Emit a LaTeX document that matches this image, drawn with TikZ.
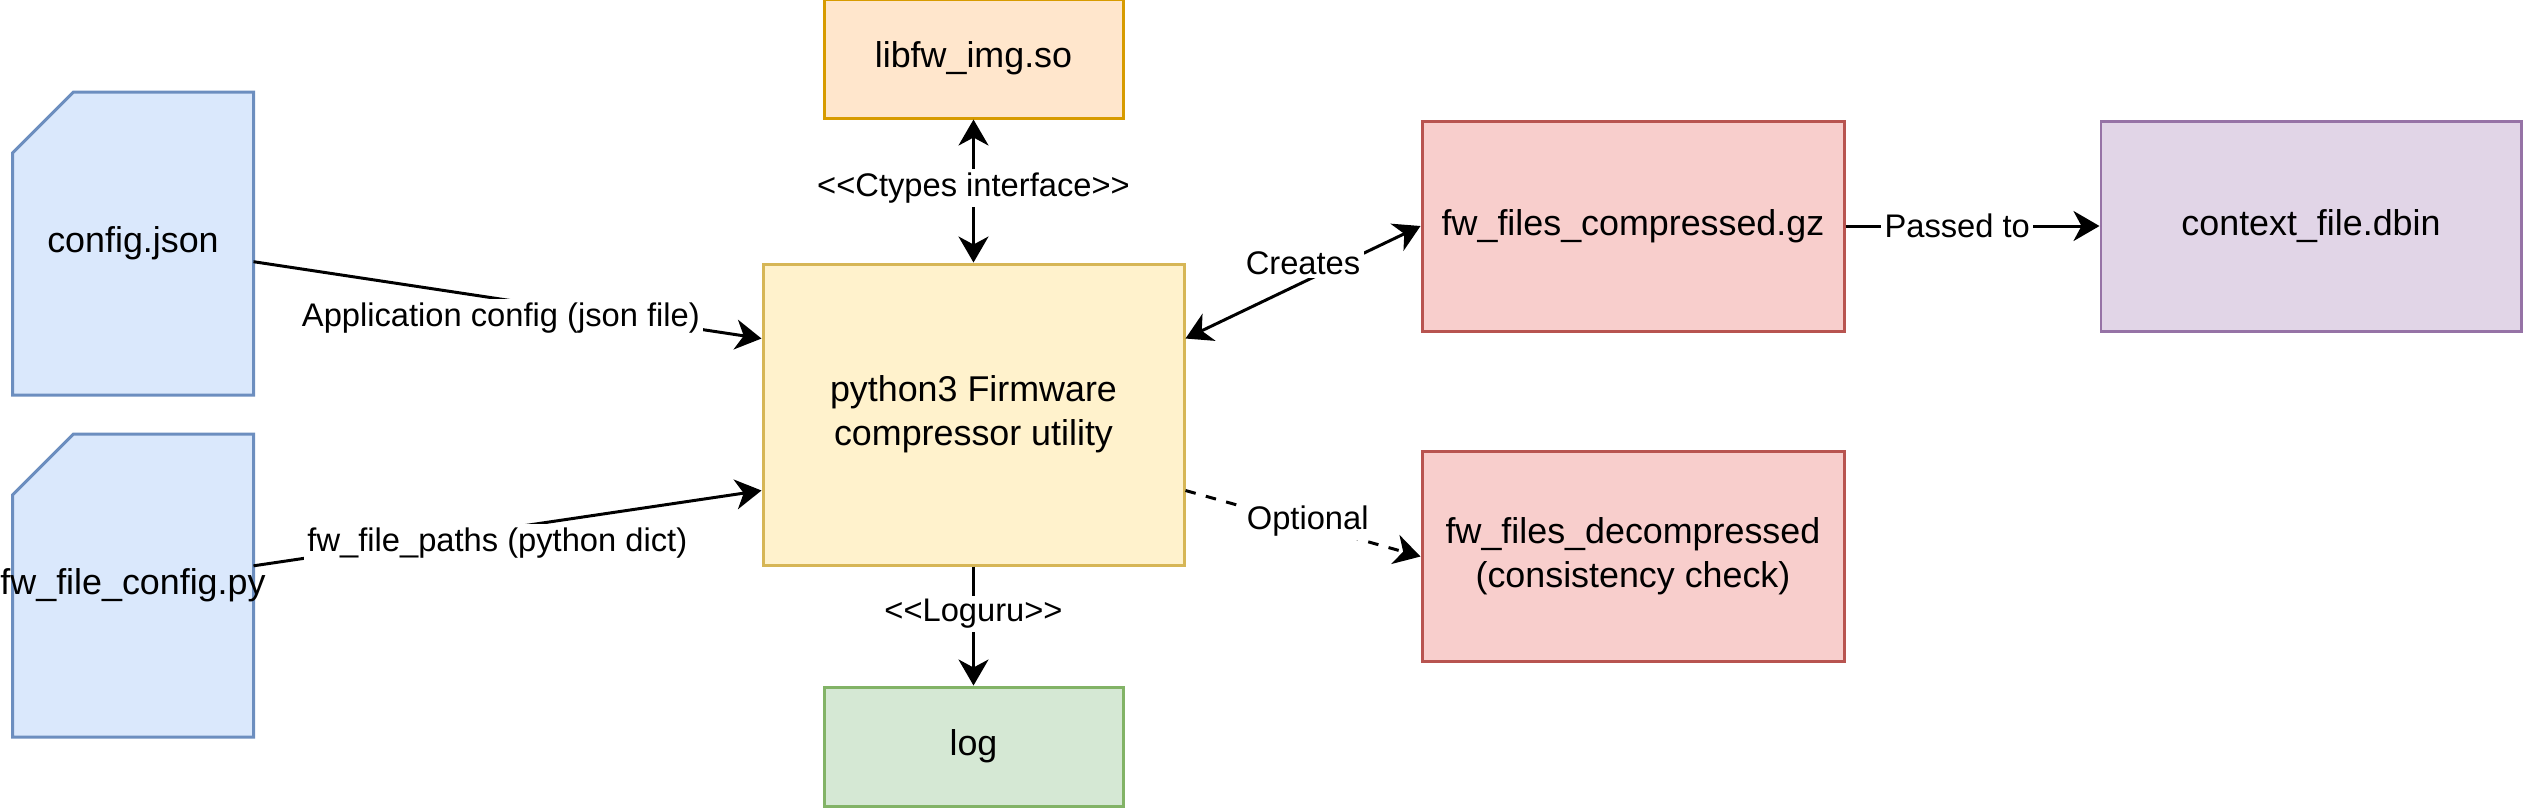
\documentclass[tikz,border=0pt]{standalone}
\usepackage{fontspec}
\setmainfont{Liberation Sans}
\usetikzlibrary{arrows.meta,positioning,backgrounds,calc}
\definecolor{fwInk}{HTML}{000000}
\definecolor{fwBlueFill}{HTML}{DAE8FC}
\definecolor{fwBlueLine}{HTML}{6C8EBF}
\definecolor{fwOrangeFill}{HTML}{FFE6CC}
\definecolor{fwOrangeLine}{HTML}{D79B00}
\definecolor{fwYellowFill}{HTML}{FFF2CC}
\definecolor{fwYellowLine}{HTML}{D6B656}
\definecolor{fwGreenFill}{HTML}{D5E8D4}
\definecolor{fwGreenLine}{HTML}{82B366}
\definecolor{fwRedFill}{HTML}{F8CECC}
\definecolor{fwRedLine}{HTML}{B85450}
\definecolor{fwPurpleFill}{HTML}{E1D5E7}
\definecolor{fwPurpleLine}{HTML}{9673A6}
\tikzset{
  fw/base/.style={draw=fwInk, line width=0.85pt, align=center, inner sep=0pt,
    font=\fontsize{10.2}{12.6}\selectfont, text=fwInk},
  % the card outline of a file is drawn behind the node, see fw/card
  fw/doc/.style={fw/base, draw=none, minimum width=2.38cm, minimum height=3.0cm},
  fw/card/.style={draw=fwBlueLine, fill=fwBlueFill, line width=0.85pt},
  fw/tool/.style={fw/base, draw=fwYellowLine, fill=fwYellowFill,
    minimum width=4.21cm, minimum height=3.01cm},
  fw/lib/.style={fw/base, draw=fwOrangeLine, fill=fwOrangeFill,
    minimum width=2.99cm, minimum height=1.19cm},
  fw/log/.style={fw/base, draw=fwGreenLine, fill=fwGreenFill,
    minimum width=2.99cm, minimum height=1.19cm},
  fw/output/.style={fw/base, draw=fwRedLine, fill=fwRedFill,
    minimum width=4.22cm, minimum height=2.1cm},
  fw/target/.style={fw/base, draw=fwPurpleLine, fill=fwPurpleFill,
    minimum width=4.2cm, minimum height=2.1cm},
  fw/arrow/.style={-{Stealth[length=2.6mm,width=3mm,inset=0.8mm]}, draw=fwInk,
    line width=0.85pt},
  fw/both/.style={fw/arrow, {Stealth[length=2.6mm,width=3mm,inset=0.8mm]}-{Stealth[length=2.6mm,width=3mm,inset=0.8mm]}},
  fw/label/.style={font=\fontsize{9.3}{11}\selectfont, text=fwInk, fill=white,
    inner sep=1pt},
  % << and >> are split by a kern so the TeX mapping keeps them as two signs
}

\begin{document}
\begin{tikzpicture}
\useasboundingbox (0,0) rectangle (25.23,-8.07);
\node[fw/tool] (main) at (9.735,-4.145) {python3 Firmware\\compressor utility};
\node[fw/lib, above=1.43cm of main] (lib) {libfw\_img.so};
\node[fw/log, below=1.19cm of main] (logf) {log};
\node[fw/doc, left=5.08cm of main, yshift=1.71cm] (cfg) {config.json};
\node[fw/doc, left=5.08cm of main, yshift=-1.71cm] (fwcfg) {\makebox[0pt]{fw\_file\_config.py}};
\node[fw/output, right=2.35cm of main, yshift=1.885cm] (gz) {fw\_files\_compressed.gz};
\node[fw/output, right=2.35cm of main, yshift=-1.42cm] (decomp) {fw\_files\_decompressed\\(consistency check)};
\node[fw/target, right=2.54cm of gz] (ctx) {context\_file.dbin};
\begin{scope}[on background layer]
\draw[fw/card] ($(cfg.north west)+(0.61,0)$) -- (cfg.north east) -- (cfg.south east)
  -- (cfg.south west) -- ($(cfg.north west)+(0,-0.61)$) -- cycle;
\draw[fw/card] ($(fwcfg.north west)+(0.61,0)$) -- (fwcfg.north east) -- (fwcfg.south east)
  -- (fwcfg.south west) -- ($(fwcfg.north west)+(0,-0.61)$) -- cycle;
\end{scope}
\draw[fw/arrow] ($(cfg.north east)!0.56!(cfg.south east)$) -- ($(main.north west)!0.25!(main.south west)$)
  node[fw/label, pos=0.487, yshift=-1.9mm] (cfglbl) {Application config (json file)};
\draw[fw/arrow] ($(fwcfg.north east)!0.435!(fwcfg.south east)$) -- ($(main.north west)!0.75!(main.south west)$)
  node[fw/label, pos=0.48, yshift=-1.3mm] (fwcfglbl) {fw\_file\_paths (python dict)};
\draw[fw/both] (lib) -- (main)
  node[fw/label, pos=0.48] (libfwlbl) {<\kern0pt<Ctypes interface>\kern0pt>};
\draw[fw/both] ($(main.north east)!0.25!(main.south east)$) -- (gz.west)
  node[fw/label, pos=0.5, yshift=1.9mm] (gzlbl) {Creates};
\draw[fw/arrow, dashed] ($(main.north east)!0.75!(main.south east)$) -- (decomp.west)
  node[fw/label, pos=0.52, yshift=0.4mm] (decomplbl) {Optional};
\draw[fw/arrow] (main) -- (logf)
  node[fw/label, pos=0.4] (loglbl) {<\kern0pt<Loguru>\kern0pt>};
\draw[fw/arrow] (gz) -- (ctx)
  node[fw/label, pos=0.44] (ctxlbl) {Passed to};
\end{tikzpicture}
\end{document}
